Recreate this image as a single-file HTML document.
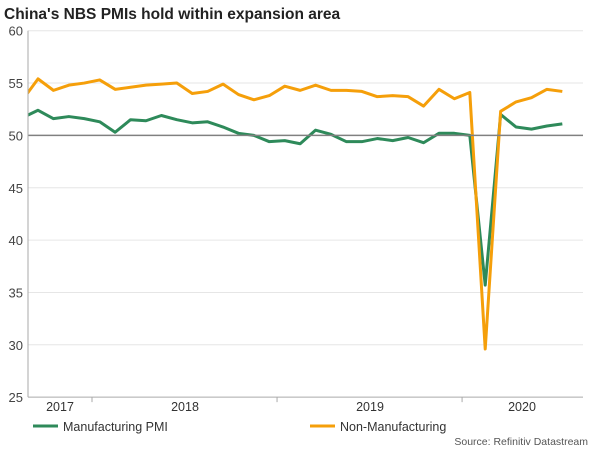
<!DOCTYPE html>
<html><head><meta charset="utf-8"><style>
body{margin:0;background:#fff;font-family:"Liberation Sans",Arial,sans-serif}
svg text{font-family:"Liberation Sans",Arial,sans-serif}
</style></head><body>
<svg id="c" width="600" height="450">
<text x="4" y="19" font-size="15.5" font-weight="bold" fill="#222">China's NBS PMIs hold within expansion area</text>
<defs><clipPath id="clip"><rect x="28" y="20" width="556" height="380"/></clipPath></defs>
<g id="grid"></g><g id="lines" clip-path="url(#clip)"></g><g id="axes"></g>
<g>
<line x1="33" y1="426" x2="58" y2="426" stroke="#2e8a5a" stroke-width="3"/>
<text x="63" y="431" font-size="12.5" fill="#333">Manufacturing PMI</text>
<line x1="310" y1="426" x2="335" y2="426" stroke="#f59f0a" stroke-width="3"/>
<text x="340" y="431" font-size="12.5" fill="#333">Non-Manufacturing</text>
</g>
<text x="588" y="445" font-size="10.5" fill="#555" text-anchor="end">Source: Refinitiv Datastream</text>
</svg>
<script>
const manufacturing=[51.7,52.4,51.6,51.8,51.6,51.3,50.3,51.5,51.4,51.9,51.5,51.2,51.3,50.8,50.2,50.0,49.4,49.5,49.2,50.5,50.1,49.4,49.4,49.7,49.5,49.8,49.3,50.2,50.2,50.0,35.7,52.0,50.8,50.6,50.9,51.1];
const nonManufacturing=[53.4,55.4,54.3,54.8,55.0,55.3,54.4,54.6,54.8,54.9,55.0,54.0,54.2,54.9,53.9,53.4,53.8,54.7,54.3,54.8,54.3,54.3,54.2,53.7,53.8,53.7,52.8,54.4,53.5,54.1,29.6,52.3,53.2,53.6,54.4,54.2];
const yTicks=[25,30,35,40,45,50,55,60];
const years=["2017","2018","2019","2020"];
const yearLabelX=[60,185,370,522];
const NS="http://www.w3.org/2000/svg";
const X0=28,X1=583,Y60=30.7,PX=10.47,MW=15.42,JAN18=92,JAN18_IDX=5;
const xs=i=>JAN18+(i-JAN18_IDX+0.5)*MW;
const ys=v=>Y60+(60-v)*PX;
function mk(t,a,p){const e=document.createElementNS(NS,t);for(const k in a)e.setAttribute(k,a[k]);p.appendChild(e);return e;}
const grid=document.getElementById('grid'),axes=document.getElementById('axes'),lines=document.getElementById('lines');
yTicks.forEach(v=>{
 if(v!==25&&v!==50){const g=mk('line',{x1:X0,x2:X1,y1:ys(v),y2:ys(v),stroke:'#e6e6e6','stroke-width':1},grid);
 
 }
 const t=mk('text',{x:X0-5,y:ys(v)+5,'font-size':13,fill:'#444','text-anchor':'end'},axes);t.textContent=v;
 
 
});
const ref=mk('line',{x1:X0,x2:X1,y1:ys(50),y2:ys(50),stroke:'#808080','stroke-width':1.5},axes);


const ya=mk('line',{x1:X0,x2:X0,y1:Y60,y2:ys(25),stroke:'#aaa','stroke-width':1},axes);


const xa=mk('line',{x1:X0,x2:X1,y1:ys(25),y2:ys(25),stroke:'#aaa','stroke-width':1},axes);


[1,2,3].forEach(k=>{const x=JAN18+(k-1)*12*MW;const l=mk('line',{x1:x,x2:x,y1:ys(25),y2:ys(25)+5,stroke:'#aaa'},axes);
 
 });
years.forEach((y,i)=>{const t=mk('text',{x:yearLabelX[i],y:411,'font-size':12.5,fill:'#333','text-anchor':'middle'},axes);t.textContent=y;
 
 });
function series(d,c,n){const p=mk('polyline',{points:d.map((v,i)=>xs(i)+','+ys(v)).join(' '),fill:'none',stroke:c,'stroke-width':3,'stroke-linejoin':'round'},lines);
 
 }
series(manufacturing,'#2e8a5a','manufacturing-line');
series(nonManufacturing,'#f59f0a','non-manufacturing-line');
</script>
</body></html>
